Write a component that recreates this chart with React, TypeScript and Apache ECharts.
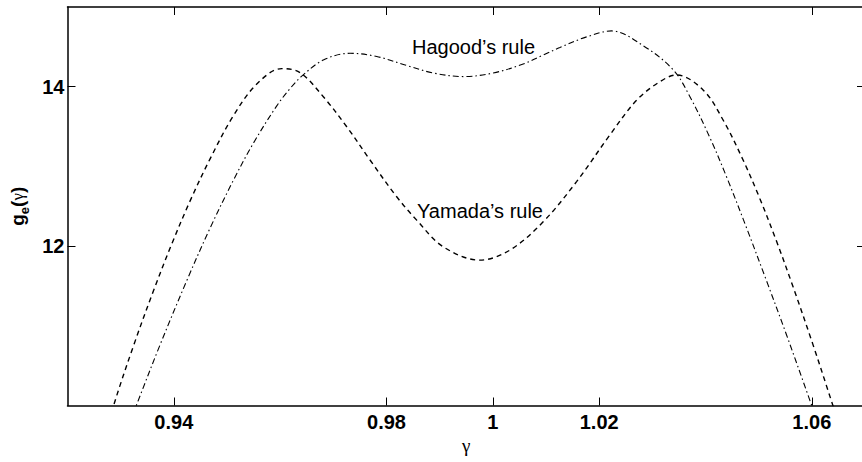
import React, { useEffect, useRef } from "react";
import * as echarts from "echarts";

// γ values and g_e(γ) for Yamada's rule (dashed)
const gammaYamada = [
  0.9275, 0.92865, 0.93241, 0.93617, 0.93962, 0.94306, 0.94682, 0.9512, 0.9556, 0.9603,
  0.96374, 0.96812, 0.97252, 0.9769, 0.98192, 0.98568, 0.99068, 0.99758, 1.00321,
  1.00947, 1.01575, 1.02201, 1.02703, 1.03141, 1.03455, 1.03955, 1.04331, 1.04707,
  1.05021, 1.05335, 1.05647, 1.06023, 1.06399, 1.0655,
];
const gYamada = [
  9.69, 9.995, 10.748, 11.439, 12.028, 12.567, 13.095, 13.636, 14.033, 14.227,
  14.176, 13.874, 13.498, 13.08, 12.619, 12.326, 11.991, 11.824, 11.95,
  12.305, 12.809, 13.394, 13.829, 14.063, 14.147, 13.959, 13.582, 13.08,
  12.598, 12.063, 11.489, 10.761, 9.995, 9.69,
];

// γ values and g_e(γ) for Hagood's rule (dash-dot)
const gammaHagood = [
  0.93141, 0.93291, 0.93742, 0.94244, 0.94682, 0.9512, 0.95496, 0.95936, 0.96186, 0.96406,
  0.96812, 0.97314, 0.97816, 0.9838, 0.9888, 0.99444, 1.00008, 1.00571, 1.00947,
  1.01261, 1.01763, 1.02233, 1.02827, 1.03391, 1.03705, 1.04081, 1.04395, 1.04771,
  1.05147, 1.05523, 1.05993, 1.06143,
];
const gHagood = [
  9.735, 9.995, 10.763, 11.568, 12.226, 12.826, 13.291, 13.76, 13.977, 14.132,
  14.335, 14.419, 14.379, 14.266, 14.172, 14.127, 14.172, 14.285, 14.398,
  14.492, 14.625, 14.7, 14.515, 14.213, 13.878, 13.363, 12.871, 12.231,
  11.566, 10.888, 10.009, 9.73,
];

const xTicks = [0.94, 0.98, 1, 1.02, 1.06];
const yTicks = [12, 14];
const annotations = ["Hagood\u2019s rule", "Yamada\u2019s rule"];

export default function App() {
  const ref = useRef<HTMLDivElement>(null);
  useEffect(() => {
    if (!ref.current) return;
    const chart = echarts.init(ref.current, null, { renderer: "svg" });
    const axisLine = { show: true, lineStyle: { color: "#000", width: 1.5 } };
    const tick = (vals: number[]) => ({
      show: true,
      inside: true,
      length: 8,
      customValues: vals,
      lineStyle: { color: "#000", width: 1 },
    });
    const labelFont = {
      fontFamily: "Liberation Sans, Arial, sans-serif",
      fontWeight: "bold" as const,
      fontSize: 20,
      color: "#000",
    };
    chart.setOption({
      animation: false,
      backgroundColor: "#fff",
      grid: { left: 67, top: 7, right: 0, bottom: 56.5, containLabel: false },
      xAxis: [
        {
          type: "value",
          min: 0.92,
          max: 1.07,
          position: "bottom",
          axisLine,
          axisTick: tick(xTicks),
          splitLine: { show: false },
          axisLabel: {
            ...labelFont,
            margin: 6,
            customValues: xTicks,
            formatter: (v: number) => String(+v.toFixed(2)),
          },
          name: "\u03b3",
          nameLocation: "middle",
          nameGap: 30,
          nameTextStyle: {
            fontFamily: "Liberation Serif, serif",
            fontSize: 19,
            color: "#000",
          },
        },
        {
          type: "value",
          min: 0.92,
          max: 1.07,
          position: "top",
          axisLine,
          axisTick: tick(xTicks),
          axisLabel: { show: false },
          splitLine: { show: false },
        },
      ],
      yAxis: [
        {
          type: "value",
          min: 10,
          max: 15,
          position: "left",
          axisLine,
          axisTick: tick(yTicks),
          splitLine: { show: false },
          axisLabel: {
            ...labelFont,
            margin: 3,
            customValues: yTicks,
          },
          name: "{a|g}{b|e}{a|(}{c|\u03b3}{a|)}",
          nameLocation: "middle",
          nameGap: 37,
          nameTextStyle: {
            rich: {
              a: {
                fontFamily: "Liberation Sans, Arial, sans-serif",
                fontWeight: "bold",
                fontSize: 19,
                lineHeight: 26,
                color: "#000",
              },
              b: {
                fontFamily: "Liberation Sans, Arial, sans-serif",
                fontWeight: "bold",
                fontSize: 13,
                lineHeight: 13,
                verticalAlign: "bottom",
                color: "#000",
              },
              c: {
                fontFamily: "Liberation Serif, serif",
                fontSize: 17,
                lineHeight: 26,
                color: "#000",
              },
            },
          },
        },
        {
          type: "value",
          min: 10,
          max: 15,
          position: "right",
          axisLine,
          axisTick: tick(yTicks),
          axisLabel: { show: false },
          splitLine: { show: false },
        },
      ],
      series: [
        {
          name: "Yamada",
          type: "line",
          data: gammaYamada.map((x, i) => [x, gYamada[i]]),
          smooth: 0.35,
          showSymbol: false,
          clip: true,
          lineStyle: { color: "#000", width: 1.4, type: [5, 4] },
        },
        {
          name: "Hagood",
          type: "line",
          data: gammaHagood.map((x, i) => [x, gHagood[i]]),
          smooth: 0.35,
          showSymbol: false,
          clip: true,
          lineStyle: { color: "#000", width: 1.1, type: [6, 3, 1.5, 3] },
        },
      ],
      graphic: [
        {
          type: "text",
          x: 412,
          y: 47,
          style: {
            text: annotations[0],
            fontFamily: "Liberation Sans, Arial, sans-serif",
            fontSize: 20,
            fill: "#000",
            verticalAlign: "middle",
          },
        },
        {
          type: "text",
          x: 417,
          y: 211,
          style: {
            text: annotations[1],
            fontFamily: "Liberation Sans, Arial, sans-serif",
            fontSize: 20,
            fill: "#000",
            verticalAlign: "middle",
          },
        },
      ],
    });
    return () => chart.dispose();
  }, []);
  return (
    <div
      style={{
        position: "absolute",
        left: 0,
        top: 0,
        width: 862,
        height: 462,
        overflow: "hidden",
        background: "#fff",
      }}
    >
      <div ref={ref} style={{ width: 865, height: 462 }} />
    </div>
  );
}
